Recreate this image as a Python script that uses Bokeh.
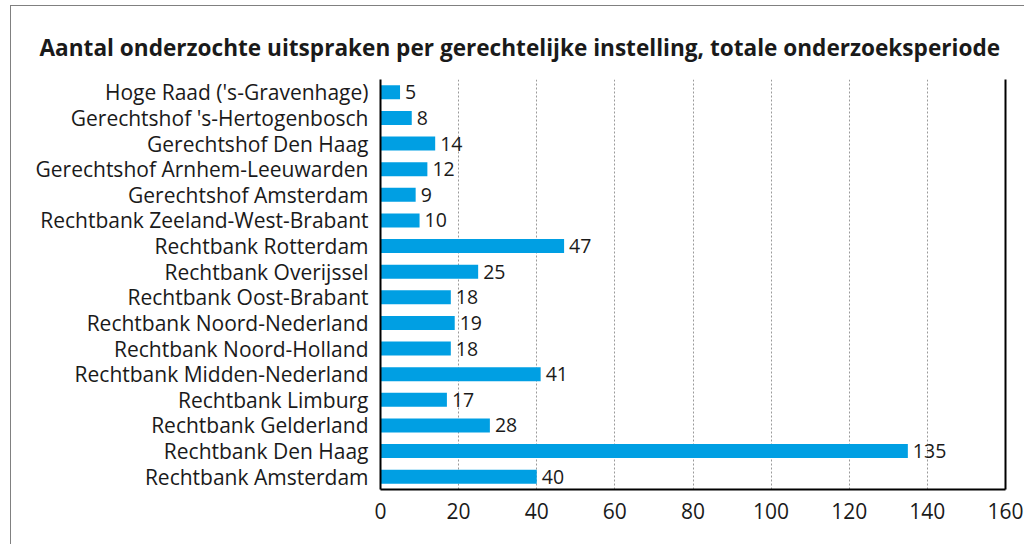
from bokeh.plotting import figure
from bokeh.models import ColumnDataSource, FactorRange, LinearAxis, FixedTicker, Range1d
from bokeh.embed import file_html
from bokeh.resources import INLINE
from bokeh.core.properties import value

instellingen = [
    "Hoge Raad ('s-Gravenhage)",
    "Gerechtshof 's-Hertogenbosch",
    "Gerechtshof Den Haag",
    "Gerechtshof Arnhem-Leeuwarden",
    "Gerechtshof Amsterdam",
    "Rechtbank Zeeland-West-Brabant",
    "Rechtbank Rotterdam",
    "Rechtbank Overijssel",
    "Rechtbank Oost-Brabant",
    "Rechtbank Noord-Nederland",
    "Rechtbank Noord-Holland",
    "Rechtbank Midden-Nederland",
    "Rechtbank Limburg",
    "Rechtbank Gelderland",
    "Rechtbank Den Haag",
    "Rechtbank Amsterdam",
]
aantallen = [5, 8, 14, 12, 9, 10, 47, 25, 18, 19, 18, 41, 17, 28, 135, 40]
x_ticks = [0, 20, 40, 60, 80, 100, 120, 140, 160]

FONT = "Open Sans"
TEXT = "#1a1a1a"

src = ColumnDataSource(dict(
    cat=instellingen,
    val=aantallen,
    lab=[str(v) for v in aantallen],
))

p = figure(
    width=1014, height=539,
    y_range=FactorRange(factors=list(reversed(instellingen)), range_padding=0),
    x_range=Range1d(0, 160),
    output_backend="svg", toolbar_location=None,
    min_border_left=369, min_border_right=20, min_border_top=73, min_border_bottom=56,
)
p.styles = {"border-left": "1px solid #808080", "border-top": "1px solid #808080",
            "margin-left": "10px", "margin-top": "5px"}
p.outline_line_color = None
p.background_fill_color = "white"
p.border_fill_color = "white"

p.hbar(y="cat", right="val", left=0, height=0.55, source=src,
       fill_color="#009FE3", line_color=None)
p.text(x="val", y="cat", text="lab", source=src, x_offset=5,
       text_baseline="middle", text_align="left",
       text_font=value(FONT), text_font_size="19.5px", text_color=TEXT)

# title
p.title.text = "Aantal onderzochte uitspraken per gerechtelijke instelling, totale onderzoeksperiode"
p.title.text_font = FONT
p.title.text_font_style = "bold"
p.title.text_font_size = "22.6px"
p.title.text_color = TEXT
p.title.align = "left"
p.title.offset = -341
p.title.standoff = 33

# x axis
xa = p.xaxis[0]
xa.ticker = FixedTicker(ticks=x_ticks)
xa.major_tick_line_color = None
xa.minor_tick_line_color = None
xa.axis_line_color = "black"
xa.axis_line_width = 2
xa.major_label_text_font = FONT
xa.major_label_text_font_size = "21px"
xa.major_label_text_color = TEXT
xa.major_label_standoff = 7

# y axis
ya = p.yaxis[0]
ya.major_tick_line_color = None
ya.minor_tick_line_color = None
ya.axis_line_color = "black"
ya.axis_line_width = 2
ya.major_label_text_font = FONT
ya.major_label_text_font_size = "21px"
ya.major_label_text_color = TEXT
ya.major_label_standoff = 6

# right frame line
ra = LinearAxis(ticker=FixedTicker(ticks=[]), axis_line_color="black", axis_line_width=2,
                major_tick_line_color=None, minor_tick_line_color=None,
                major_label_text_font_size="0px")
p.add_layout(ra, "right")

p.ygrid.grid_line_color = None
p.xgrid.ticker = FixedTicker(ticks=x_ticks)
p.xgrid.grid_line_color = "#9a9a9a"
p.xgrid.grid_line_dash = "2 2"
p.xgrid.grid_line_width = 1

open("out.html", "w").write(file_html(p, INLINE))
